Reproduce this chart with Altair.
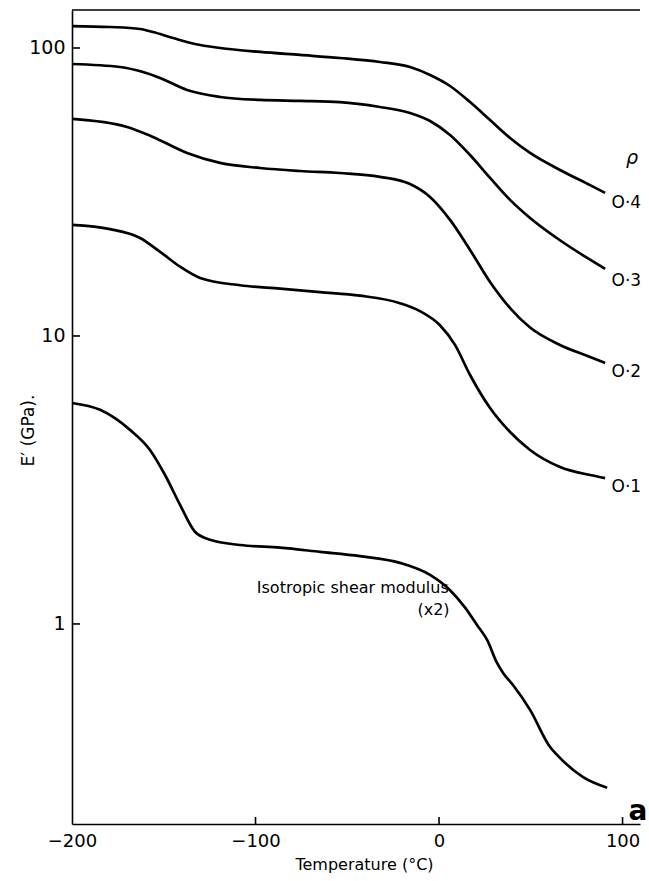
import altair as alt
import pandas as pd

# ---- data (Temperature in °C, E' in GPa) ----
temp_04 = [-200, -179.3, -162.9, -155.9, -145.0, -133.0, -119.3, -97.5, -75.7, -54.0, -32.2,
           -15.8, -4.9, 6.0, 16.9, 27.8, 38.7, 49.6, 65.9, 82.3, 90.5]
mod_04 = [119.2, 118.3, 116.4, 113.6, 108.3, 103.2, 100.0, 96.9, 94.6, 92.3, 89.4,
          85.9, 80.6, 73.8, 64.9, 56.2, 48.7, 43.2, 37.7, 33.4, 31.4]

temp_03 = [-200, -173.8, -161.3, -152.0, -137.3, -119.3, -97.5, -75.7, -54.0, -32.2,
           -15.8, -4.9, 6.0, 16.9, 27.8, 38.7, 49.6, 65.9, 82.3, 90.5]
mod_03 = [88.0, 85.9, 82.5, 78.7, 71.5, 67.6, 66.0, 65.5, 64.9, 62.4,
          59.5, 55.8, 49.9, 42.5, 35.4, 29.7, 25.7, 21.5, 18.4, 17.1]

temp_02 = [-200, -170.0, -155.9, -137.3, -119.3, -97.5, -75.7, -54.0, -32.2,
           -15.8, -4.9, 6.0, 16.9, 27.8, 38.7, 49.6, 65.9, 82.3, 90.5]
mod_02 = [56.7, 53.2, 49.1, 43.2, 39.9, 38.3, 37.4, 36.8, 35.7,
          33.7, 30.4, 25.3, 19.9, 15.4, 12.5, 10.7, 9.31, 8.46, 8.06]

temp_01 = [-200, -179.3, -162.9, -152.0, -141.1, -130.2, -108.4, -86.6, -64.9, -43.1,
           -21.3, -10.4, 0.5, 8.7, 16.9, 27.8, 38.7, 49.6, 65.9, 82.3, 90.5]
mod_01 = [24.3, 23.5, 21.9, 19.6, 17.4, 15.9, 15.0, 14.6, 14.2, 13.8,
          13.0, 12.2, 10.9, 9.31, 7.32, 5.62, 4.64, 4.02, 3.51, 3.29, 3.21]

temp_iso = [-200, -184.7, -168.4, -157.5, -149.3, -141.1, -133.0, -124.8, -108.4, -86.6,
            -64.9, -43.1, -21.3, -4.9, 6.0, 14.2, 20.7, 26.2, 31.6, 34.9, 40.3,
            49.6, 60.5, 64.3, 78.5, 91.6]
mod_iso = [5.85, 5.54, 4.72, 4.02, 3.29, 2.59, 2.09, 1.96, 1.88, 1.84,
           1.78, 1.72, 1.63, 1.48, 1.31, 1.14, 0.992, 0.880, 0.732, 0.676, 0.614,
           0.503, 0.374, 0.351, 0.294, 0.270]

series_names = ["0.4", "0.3", "0.2", "0.1", "iso"]
series_temps = [temp_04, temp_03, temp_02, temp_01, temp_iso]
series_mods = [mod_04, mod_03, mod_02, mod_01, mod_iso]

# curve labels
label_texts = ["\u03c1", "O\u00b74", "O\u00b73", "O\u00b72", "O\u00b71"]
label_temps = [105.2, 94.0, 94.0, 94.0, 94.0]
label_mods = [41.5, 29.0, 15.5, 7.5, 2.99]

note_texts = ["Isotropic shear modulus", "(x2)"]
note_temps = [-47.0, -3.0]
note_mods = [1.33, 1.12]

x_ticks = [-200, -100, 0, 100]
y_ticks = [1, 10, 100]

X_DOMAIN = [-200, 109.5]
Y_DOMAIN = [0.202, 135.5]

W, H = 568, 814
FONT = "DejaVu Sans"

rows = []
for name, ts, ms in zip(series_names, series_temps, series_mods):
    for t, m in zip(ts, ms):
        rows.append({"series": name, "T": t, "E": m})
df = pd.DataFrame(rows)

xs = alt.Scale(domain=X_DOMAIN, nice=False, zero=False)
ys = alt.Scale(type="log", domain=Y_DOMAIN, nice=False)

lines = alt.Chart(df).mark_line(
    color="black", strokeWidth=2.7, interpolate="monotone"
).encode(
    x=alt.X("T:Q", scale=xs, axis=alt.Axis(
        values=x_ticks, title="Temperature (\u00b0C)", ticks=False, tickSize=0,
        grid=False, domainColor="black", domainWidth=1.6, labelFlush=False,
        labelFont=FONT, labelFontSize=18, labelColor="black", labelPadding=8,
        titleFont=FONT, titleFontSize=16, titleFontWeight="normal", titleColor="black",
        titleX=292, titleY=40, titleAlign="center", titleBaseline="middle")),
    y=alt.Y("E:Q", scale=ys, axis=alt.Axis(
        values=y_ticks, format="d", title="E\u2032  (GPa).", ticks=False, tickSize=0,
        grid=False, domainColor="black", domainWidth=1.6, labelFlush=False,
        labelFont=FONT, labelFontSize=19, labelColor="black", labelPadding=7,
        titleFont=FONT, titleFontSize=17, titleFontWeight="normal", titleColor="black",
        titleX=-44, titleY=420, titleAngle=-90, titleAlign="center", titleBaseline="middle")),
    detail="series:N",
)

# inward ticks
ytick_df = pd.DataFrame({"E": y_ticks})
ytick_marks = alt.Chart(ytick_df).mark_rule(color="black", strokeWidth=1.6).encode(
    y=alt.Y("E:Q", scale=ys), x=alt.value(0), x2=alt.value(8)
)
xtick_df = pd.DataFrame({"T": x_ticks[1:]})
xtick_marks = alt.Chart(xtick_df).mark_rule(color="black", strokeWidth=1.6).encode(
    x=alt.X("T:Q", scale=xs), y=alt.value(H), y2=alt.value(H - 7)
)

# top border line
top_line = alt.Chart(pd.DataFrame({"a": [0]})).mark_rule(color="black", strokeWidth=1.4).encode(
    x=alt.value(0), x2=alt.value(W), y=alt.value(0)
)

lab_df = pd.DataFrame({"T": label_temps, "E": label_mods, "txt": label_texts,
                       "style": ["italic", "normal", "normal", "normal", "normal"]})
labels = alt.Chart(lab_df[lab_df["style"] == "normal"]).mark_text(
    align="left", baseline="middle", font=FONT, fontSize=17, color="black"
).encode(x=alt.X("T:Q", scale=xs), y=alt.Y("E:Q", scale=ys), text="txt:N")
rho = alt.Chart(lab_df[lab_df["style"] == "italic"]).mark_text(
    align="center", baseline="middle", font=FONT, fontSize=19, fontStyle="italic", color="black"
).encode(x=alt.X("T:Q", scale=xs), y=alt.Y("E:Q", scale=ys), text="txt:N")

note_df = pd.DataFrame({"T": note_temps, "E": note_mods, "txt": note_texts})
notes = alt.Chart(note_df).mark_text(
    align="center", baseline="middle", font=FONT, fontSize=16, color="black"
).encode(x=alt.X("T:Q", scale=xs), y=alt.Y("E:Q", scale=ys), text="txt:N")

panel_df = pd.DataFrame({"T": [108.4], "E": [0.222], "txt": ["a"]})
panel = alt.Chart(panel_df).mark_text(
    align="center", baseline="middle", font=FONT, fontSize=28, fontWeight="bold", color="black"
).encode(x=alt.X("T:Q", scale=xs), y=alt.Y("E:Q", scale=ys), text="txt:N")

chart = alt.layer(
    lines, ytick_marks, xtick_marks, top_line, labels, rho, notes, panel
).properties(
    width=W, height=H,
    autosize=alt.AutoSizeParams(type="none"),
    padding={"left": 72, "top": 10, "right": 9, "bottom": 57},
    background="white",
).configure_view(stroke=None)

chart.save("out.html", embed_options={"renderer": "svg", "actions": False})
